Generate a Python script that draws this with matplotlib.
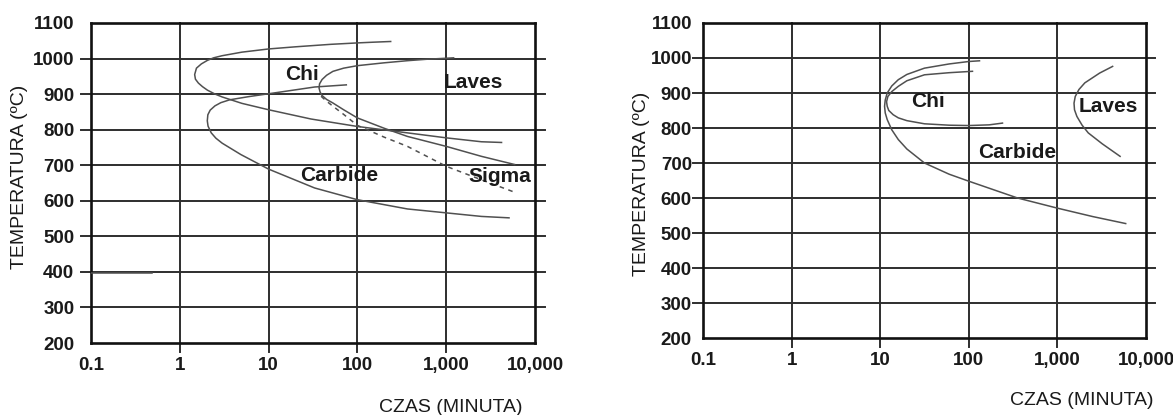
import math
import matplotlib
matplotlib.use("Agg")
import matplotlib.pyplot as plt
from matplotlib import font_manager

# ---------------- data ----------------
x_ticks = [0.1, 1, 10, 100, 1000, 10000]
x_tick_labels = ["0.1", "1", "10", "100", "1,000", "10,000"]
y_ticks = [200, 300, 400, 500, 600, 700, 800, 900, 1000, 1100]
y_tick_labels = [str(v) for v in y_ticks]

# left chart
L_upper_t = [237, 150, 100, 50, 20, 10, 5, 3.0, 2.4, 2.05, 1.75, 1.54, 1.47, 1.5, 1.62, 1.8, 2.05,
             2.5, 3.0, 5, 10, 30, 100, 366, 1000, 2490, 4200]
L_upper_T = [1048, 1046, 1044, 1040, 1033, 1027, 1018, 1008, 1002, 995, 985, 973, 955, 942, 931, 921, 911,
             900, 892, 874, 856, 830, 809, 791, 777, 766, 764]

L_carb_t = [75, 50, 33, 20, 10, 6, 3.65, 2.9, 2.49, 2.2, 2.07, 2.04, 2.08, 2.26, 2.55, 3.0, 4.87,
            10, 33, 100, 366, 1000, 2490, 5100]
L_carb_T = [926, 923, 920, 912, 901, 893, 884, 876, 867, 855, 842, 825, 810, 791, 776, 762, 730,
            689, 636, 603, 577, 566, 556, 552]

L_laves_t = [1212, 600, 366, 200, 100, 70, 53, 45, 40, 37.5, 37, 38, 40, 45, 53, 70, 100, 200, 366,
             1000, 2490, 5900]
L_laves_T = [1002, 998, 994, 988, 980, 973, 964, 953, 941, 929, 917, 906, 896, 885, 875, 856, 833, 804, 781,
             753, 725, 702]

L_sigma_t = [39, 45, 53, 70, 100, 200, 366, 1000, 2490, 6200]
L_sigma_T = [894, 880, 866, 843, 812, 779, 753, 697, 659, 622]

L_low_t = [0.1, 0.49]
L_low_T = [397, 397]

# right chart
R_outer_t = [132, 100, 60, 31.6, 20, 16, 13.5, 12, 11.4, 11.2, 11.4, 12, 13.5, 16, 20, 31.6, 60, 100,
             355, 1000, 2500, 5900]
R_outer_T = [992, 990, 983, 971, 953, 938, 920, 900, 880, 862, 843, 824, 795, 767, 740, 700, 668, 648,
             600, 571, 547, 527]

R_inner_t = [110, 60, 31.6, 20, 16, 13.5, 12.2, 11.8, 12, 12.5, 14, 16, 20, 31.6, 60, 100, 170, 240]
R_inner_T = [962, 958, 952, 935, 919, 904, 890, 875, 862, 850, 838, 829, 821, 812, 808, 807, 809, 814]

R_laves_t = [4200, 3000, 2040, 1750, 1590, 1540, 1560, 1660, 1900, 2230, 3200, 5100]
R_laves_T = [976, 957, 929, 910, 890, 871, 852, 833, 808, 786, 755, 719]

labels_left = [("Chi", 23.7, 955), ("Laves", 2000, 933), ("Carbide", 62, 672), ("Sigma", 4000, 669)]
labels_right = [("Chi", 35, 876), ("Laves", 3800, 862), ("Carbide", 355, 730)]

# ---------------- style ----------------
names = {f.name for f in font_manager.fontManager.ttflist}
narrow = "Liberation Sans Narrow" if "Liberation Sans Narrow" in names else "Liberation Sans"
tick_font = [narrow, "DejaVu Sans"]
ann_font = ["Liberation Sans", "DejaVu Sans"]

W, H = 1173, 415
fig = plt.figure(figsize=(W / 100, H / 100), dpi=100)

CURVE = "#505050"
GRID = "#2e2e2e"


def setup(ax, decade_px, ext_px, lab_pad):
    upper = 10 ** (math.log10(x_ticks[-1]) + ext_px / decade_px)
    ax.set_xscale("log")
    ax.set_xlim(x_ticks[0], upper)
    ax.set_ylim(y_ticks[0], y_ticks[-1])
    for s in ["left", "right", "top", "bottom"]:
        ax.spines[s].set_linewidth(1.9)
        ax.spines[s].set_color("#111111")
    ax.spines["top"].set_bounds(x_ticks[0], x_ticks[-1])
    ax.spines["bottom"].set_bounds(x_ticks[0], x_ticks[-1])
    ax.spines["right"].set_position(("data", x_ticks[-1]))
    ax.set_xticks(x_ticks)
    ax.set_xticklabels(x_tick_labels)
    ax.xaxis.set_minor_locator(matplotlib.ticker.NullLocator())
    ax.set_yticks(y_ticks)
    ax.set_yticklabels(y_tick_labels)
    ax.tick_params(axis="both", length=0, labelsize=13.5)
    ax.tick_params(axis="x", pad=10)
    ax.tick_params(axis="y", pad=lab_pad)
    for lab in ax.get_xticklabels() + ax.get_yticklabels():
        lab.set_family(tick_font)
        lab.set_fontweight("bold")
        lab.set_color("#1a1a1a")
    axw_px = ax.get_position().width * W
    for y in y_ticks[1:-1]:
        ax.axhline(y, xmin=-10 / axw_px, xmax=1, color=GRID, lw=1.4, clip_on=False, zorder=1)
    axh_px = ax.get_position().height * H
    for x in x_ticks[1:-1]:
        ax.axvline(x, ymin=-9 / axh_px, ymax=1, color=GRID, lw=1.4, clip_on=False, zorder=1)


axL = fig.add_axes([91 / W, 1 - 343 / H, (545 - 91) / W, 320 / H])
setup(axL, 88.8, 10, 12)
axR = fig.add_axes([703 / W, 1 - 338 / H, (1155 - 703) / W, 315 / H])
setup(axR, 88.6, 9, 8)

lw = 1.1
axL.plot(L_upper_t, L_upper_T, color=CURVE, lw=lw, zorder=3)
axL.plot(L_carb_t, L_carb_T, color=CURVE, lw=lw, zorder=3)
axL.plot(L_laves_t, L_laves_T, color=CURVE, lw=lw, zorder=3)
axL.plot(L_sigma_t, L_sigma_T, color=CURVE, lw=lw, ls=(0, (3, 3)), zorder=3)
axL.plot(L_low_t, L_low_T, color=CURVE, lw=lw, zorder=3)

axR.plot(R_outer_t, R_outer_T, color=CURVE, lw=lw, zorder=3)
axR.plot(R_inner_t, R_inner_T, color=CURVE, lw=lw, zorder=3)
axR.plot(R_laves_t, R_laves_T, color=CURVE, lw=lw, zorder=3)

for ax, labs in ((axL, labels_left), (axR, labels_right)):
    for txt, x, y in labs:
        ax.text(x, y, txt, ha="center", va="center", fontsize=15, fontweight="bold",
                family=ann_font, color="#1a1a1a", zorder=4)

fig.text(20 / W, 1 - 177 / H, "TEMPERATURA (ºC)", rotation=90, ha="center", va="center",
         fontsize=14, family=tick_font, color="#1a1a1a")
fig.text(642 / W, 1 - 184 / H, "TEMPERATURA (ºC)", rotation=90, ha="center", va="center",
         fontsize=14, family=tick_font, color="#1a1a1a")
fig.text(451 / W, 1 - 407 / H, "CZAS (MINUTA)", ha="center", va="center",
         fontsize=14, family=tick_font, color="#1a1a1a")
fig.text(1082 / W, 1 - 400 / H, "CZAS (MINUTA)", ha="center", va="center",
         fontsize=14, family=tick_font, color="#1a1a1a")

fig.savefig("out.png", dpi=100, facecolor="white")
